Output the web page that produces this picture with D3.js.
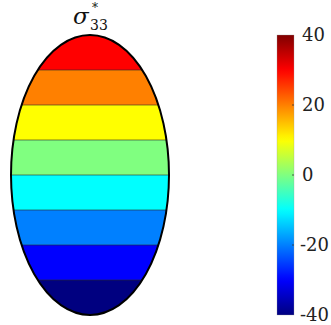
<!DOCTYPE html>
<html><head><meta charset="utf-8">
<script src="https://cdn.jsdelivr.net/npm/d3@7"></script>
<style>html,body{margin:0;padding:0;background:#fff;}svg{display:block;}text{font-family:'DejaVu Serif','Liberation Serif','Times New Roman',Times,serif;}</style>
</head><body>
<svg id="c" width="331" height="325"></svg>
<script>
// contour levels of sigma*_33 (value varies linearly with height in the ellipse)
const levels = [-40, -30, -20, -10, 0, 10, 20, 30, 40];
const colorbarTicks = [-40, -20, 0, 20, 40];
const colorDomain = [-40, 40];
const titleMain = "σ", titleSup = "*", titleSub = "33";

function jet(t) {
  const c = v => Math.max(0, Math.min(1, v));
  const r = c(1.5 - Math.abs(4 * t - 3)), g = c(1.5 - Math.abs(4 * t - 2)), b = c(1.5 - Math.abs(4 * t - 1));
  return d3.rgb(r * 255, g * 255, b * 255).formatHex();
}
const norm = d3.scaleLinear().domain(colorDomain).range([0, 1]);
const color = v => jet(norm(v));

const svg = d3.select("#c");
const cx = 90, rx = 79;
const y = d3.scaleLinear().domain(colorDomain).range([315, 35]);
const cy = (y(colorDomain[0]) + y(colorDomain[1])) / 2, ry = (y(colorDomain[0]) - y(colorDomain[1])) / 2;

const defs = svg.append("defs");
defs.append("clipPath").attr("id", "ell").append("ellipse")
  .attr("cx", cx).attr("cy", cy).attr("rx", rx).attr("ry", ry);

const bands = d3.pairs(levels);
const g = svg.append("g").attr("clip-path", "url(#ell)");
g.selectAll("rect.band").data(bands).join("rect").attr("class", "band")
  .attr("x", cx - rx - 2).attr("width", 2 * rx + 4)
  .attr("y", d => y(d[1])).attr("height", d => y(d[0]) - y(d[1]))
  .attr("fill", d => color(d[0]));
g.selectAll("line.cl").data(levels.slice(1, -1)).join("line").attr("class", "cl")
  .attr("x1", cx - rx - 2).attr("x2", cx + rx + 2)
  .attr("y1", d => y(d)).attr("y2", d => y(d))
  .attr("stroke", "#2a2a2a").attr("stroke-opacity", 0.75).attr("stroke-width", 0.8);
svg.append("ellipse").attr("cx", cx).attr("cy", cy).attr("rx", rx).attr("ry", ry)
  .attr("fill", "none").attr("stroke", "#000").attr("stroke-width", 2);

// title
svg.append("text").attr("fill", "#111")
  .attr("x", 73).attr("y", 24).attr("font-size", 23).attr("font-style", "italic").text(titleMain);
svg.append("text").attr("fill", "#111")
  .attr("x", 92).attr("y", 12).attr("font-size", 12).text(titleSup);
svg.append("text").attr("fill", "#111")
  .attr("x", 90).attr("y", 30).attr("font-size", 14).text(titleSub);

// colorbar
const cbX = 277, cbW = 17;
const grad = defs.append("linearGradient").attr("id", "jetg").attr("x1", 0).attr("y1", 1).attr("x2", 0).attr("y2", 0);
d3.range(0, 1.0001, 0.02).forEach(s => grad.append("stop").attr("offset", s).attr("stop-color", jet(s)));
svg.append("rect").attr("x", cbX).attr("y", y(colorDomain[1])).attr("width", cbW)
  .attr("height", y(colorDomain[0]) - y(colorDomain[1])).attr("fill", "url(#jetg)")
  .attr("stroke", "#999").attr("stroke-width", 0.3);
svg.selectAll("line.cbt").data(colorbarTicks.slice(1, -1)).join("line").attr("class", "cbt")
  .attr("x1", cbX + cbW - 2).attr("x2", cbX + cbW).attr("y1", d => y(d)).attr("y2", d => y(d))
  .attr("stroke", "#333").attr("stroke-width", 0.8);
svg.selectAll("text.cbl").data(colorbarTicks).join("text").attr("class", "cbl")
  .attr("x", d => d < 0 ? 300 : 302).attr("y", d => y(d)).attr("dy", "0.36em")
  .attr("font-size", 18).attr("fill", "#222")
  .text(d => d < 0 ? "-" + Math.abs(d) : String(d));
</script>
</body></html>
